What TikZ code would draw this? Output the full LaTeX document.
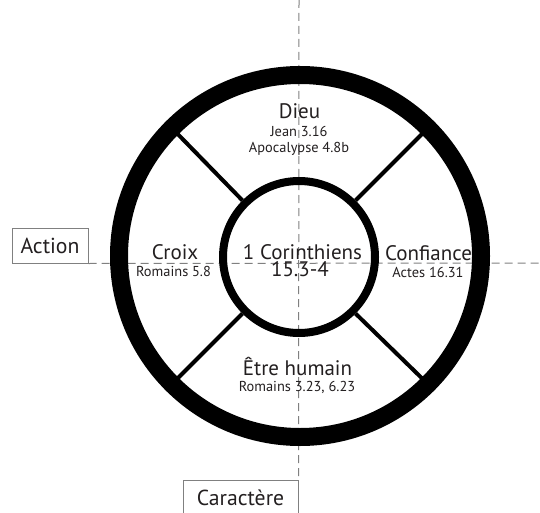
\documentclass[tikz,border=0pt]{standalone}
\usepackage{fontspec}
\setmainfont{PT Sans}
\definecolor{ink}{RGB}{35,31,32}
\definecolor{axisgray}{RGB}{128,128,128}
\begin{document}
\begin{tikzpicture}[x=1pt,y=-1pt,
  lab/.style={font=\fontsize{21}{21}\selectfont, text=ink, inner sep=0pt, anchor=base},
  refl/.style={font=\fontsize{14.4}{14.4}\selectfont, text=ink, inner sep=0pt, anchor=base},
  axisline/.style={draw=axisgray, line width=1pt, dash pattern=on 8pt off 5pt},
  boxlab/.style={draw=axisgray, line width=1pt, font=\fontsize{21.7}{21.7}\selectfont, text=ink, inner sep=0pt, minimum height=35pt},
  ring/.style={circle, draw=black, inner sep=0pt},
  spoke/.style={draw=black, line width=4pt},
]
\useasboundingbox (0,0) rectangle (540,513);
% boxes
\node[boxlab, minimum width=76pt] (action) at (50,245.5) {Action};
\node[boxlab, minimum width=115pt] (caract) at (240.5,497.5) {Caractère};
% axes
\coordinate (vtop) at (299,0);
\coordinate (hright) at (540,263);
\draw[axisline] (vtop) -- (caract.north east);
\draw[axisline] (action.south east) -- (hright);
% circles
\node[ring, line width=18pt, minimum size=362pt] (outer) at (300,256) {};
\node[ring, line width=8pt, minimum size=152pt] (inner) at (299,257) {};
\foreach \a in {45,135,225,315} \draw[spoke] (inner.\a) -- (outer.\a);
% labels
\node[lab] (dieu) at (299.5,119) {Dieu};
\node[refl] (jean) at (299,137) {Jean 3.16};
\node[refl] (apoc) at (299,153) {Apocalypse 4.8b};
\node[lab] (croix) at (175,259) {Croix};
\node[refl] (rom58) at (173.5,276) {Romains 5.8};
\node[lab] (cor) at (302.5,259) {1 Corinthiens};
\node[lab] (cor2) at (300,276) {15.3-4};
\node[lab] (conf) at (428.5,260) {Confiance};
\node[refl] (actes) at (428,277) {Actes 16.31};
\node[lab] (etre) at (297.5,375) {Être humain};
\node[refl] (rom323) at (297,391) {Romains 3.23, 6.23};
\end{tikzpicture}
\end{document}
